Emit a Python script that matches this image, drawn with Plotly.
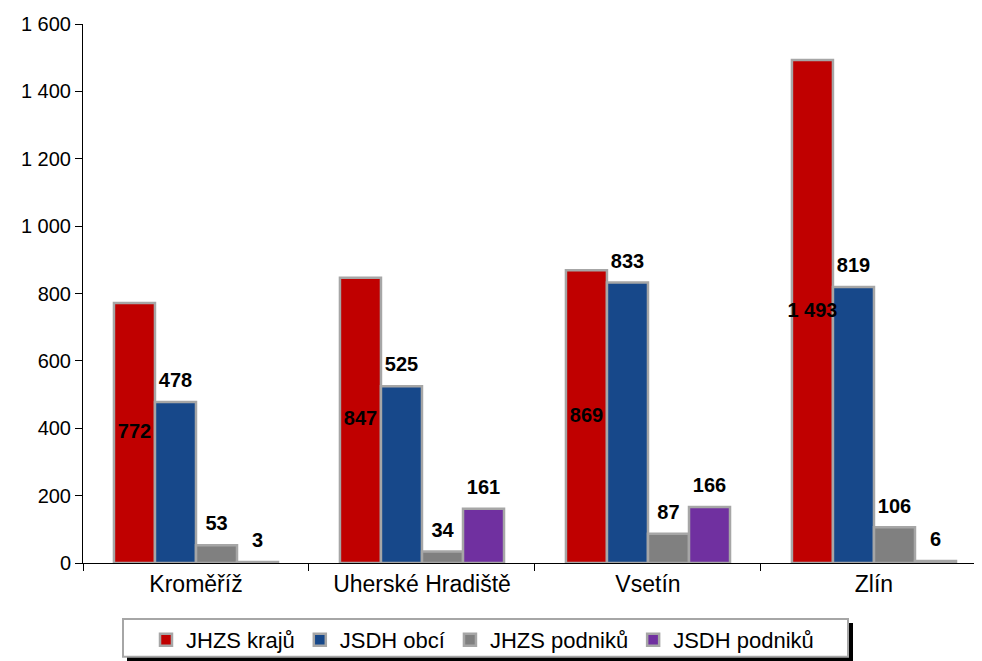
import plotly.graph_objects as go

categories = ["Kroměříž", "Uherské Hradiště", "Vsetín", "Zlín"]
series_names = ["JHZS krajů", "JSDH obcí", "JHZS podniků", "JSDH podniků"]
jhzs_kraju = [772, 847, 869, 1493]
jsdh_obci = [478, 525, 833, 819]
jhzs_podniku = [53, 34, 87, 106]
jsdh_podniku = [3, 161, 166, 6]
colors = ["#C00000", "#17488A", "#808080", "#7030A0"]
y_ticks = [0, 200, 400, 600, 800, 1000, 1200, 1400, 1600]

series = [jhzs_kraju, jsdh_obci, jhzs_podniku, jsdh_podniku]
FONT = "Arial, Liberation Sans, sans-serif"

# figure geometry (page body adds an 8px offset)
W, H = 974, 653
ML, MR, MT, MB = 75, 0, 16, 97
PW, PH = W - ML - MR, H - MT - MB


def px_x(px):
    return (px - ML) / PW


def px_y(py):
    return (H - MB - py) / PH


fig = go.Figure()
for i, (name, vals, col) in enumerate(zip(series_names, series, colors)):
    fig.add_trace(go.Bar(
        x=categories, y=vals, name=name, offsetgroup=str(i),
        marker=dict(color=col, line=dict(color="#A6A6A6", width=2.5)),
        hoverinfo="skip",
    ))

# value labels (grouped scatter text aligned with bars)
for i, (name, vals) in enumerate(zip(series_names, series)):
    if i == 0:
        ys = [v / 2 for v in vals]
        pos = "middle center"
    else:
        ys = vals
        pos = "top center"
    fig.add_trace(go.Scatter(
        x=categories, y=ys, mode="markers+text", offsetgroup=str(i),
        text=[f"{v:,}".replace(",", " ") for v in vals],
        textposition=pos,
        textfont=dict(family=FONT, size=20, color="black", weight="bold"),
        marker=dict(size=14, opacity=0),
        showlegend=False, hoverinfo="skip", cliponaxis=False,
    ))

shapes = [
    # legend shadow
    dict(type="rect", xref="paper", yref="paper", layer="below",
         x0=px_x(119), x1=px_x(845), y0=px_y(616), y1=px_y(655),
         fillcolor="black", line=dict(width=0)),
    # legend box
    dict(type="rect", xref="paper", yref="paper", layer="below",
         x0=px_x(115), x1=px_x(840), y0=px_y(612), y1=px_y(650),
         fillcolor="white", line=dict(color="#A6A6A6", width=2)),
]

fig.update_layout(
    width=W, height=H,
    margin=dict(l=ML, r=MR, t=MT, b=MB),
    paper_bgcolor="white", plot_bgcolor="white",
    barmode="group", bargap=0.274, bargroupgap=0,
    scattermode="group", scattergap=0.274,
    separators=", ",
    font=dict(family=FONT, color="black"),
    showlegend=True,
    shapes=shapes,
    legend=dict(
        orientation="h", x=px_x(138), y=px_y(612), xanchor="left", yanchor="top",
        bgcolor="rgba(0,0,0,0)", borderwidth=0,
        font=dict(family=FONT, size=22, color="black"),
        itemwidth=30, traceorder="normal",
    ),
    xaxis=dict(
        range=[-0.5, 3.478], showline=True, linecolor="black", linewidth=1,
        ticks="outside", tickson="boundaries", ticklen=7, tickcolor="black",
        tickfont=dict(size=23, family=FONT, color="black"),
        showgrid=False, zeroline=False,
    ),
    yaxis=dict(
        range=[0, 1600], tickvals=y_ticks, tickformat=",d",
        showline=True, linecolor="black", linewidth=1,
        ticks="outside", ticklen=7, tickcolor="black",
        tickfont=dict(size=20, family=FONT, color="black"),
        showgrid=False, zeroline=False,
    ),
)

fig.write_html("out.html")
